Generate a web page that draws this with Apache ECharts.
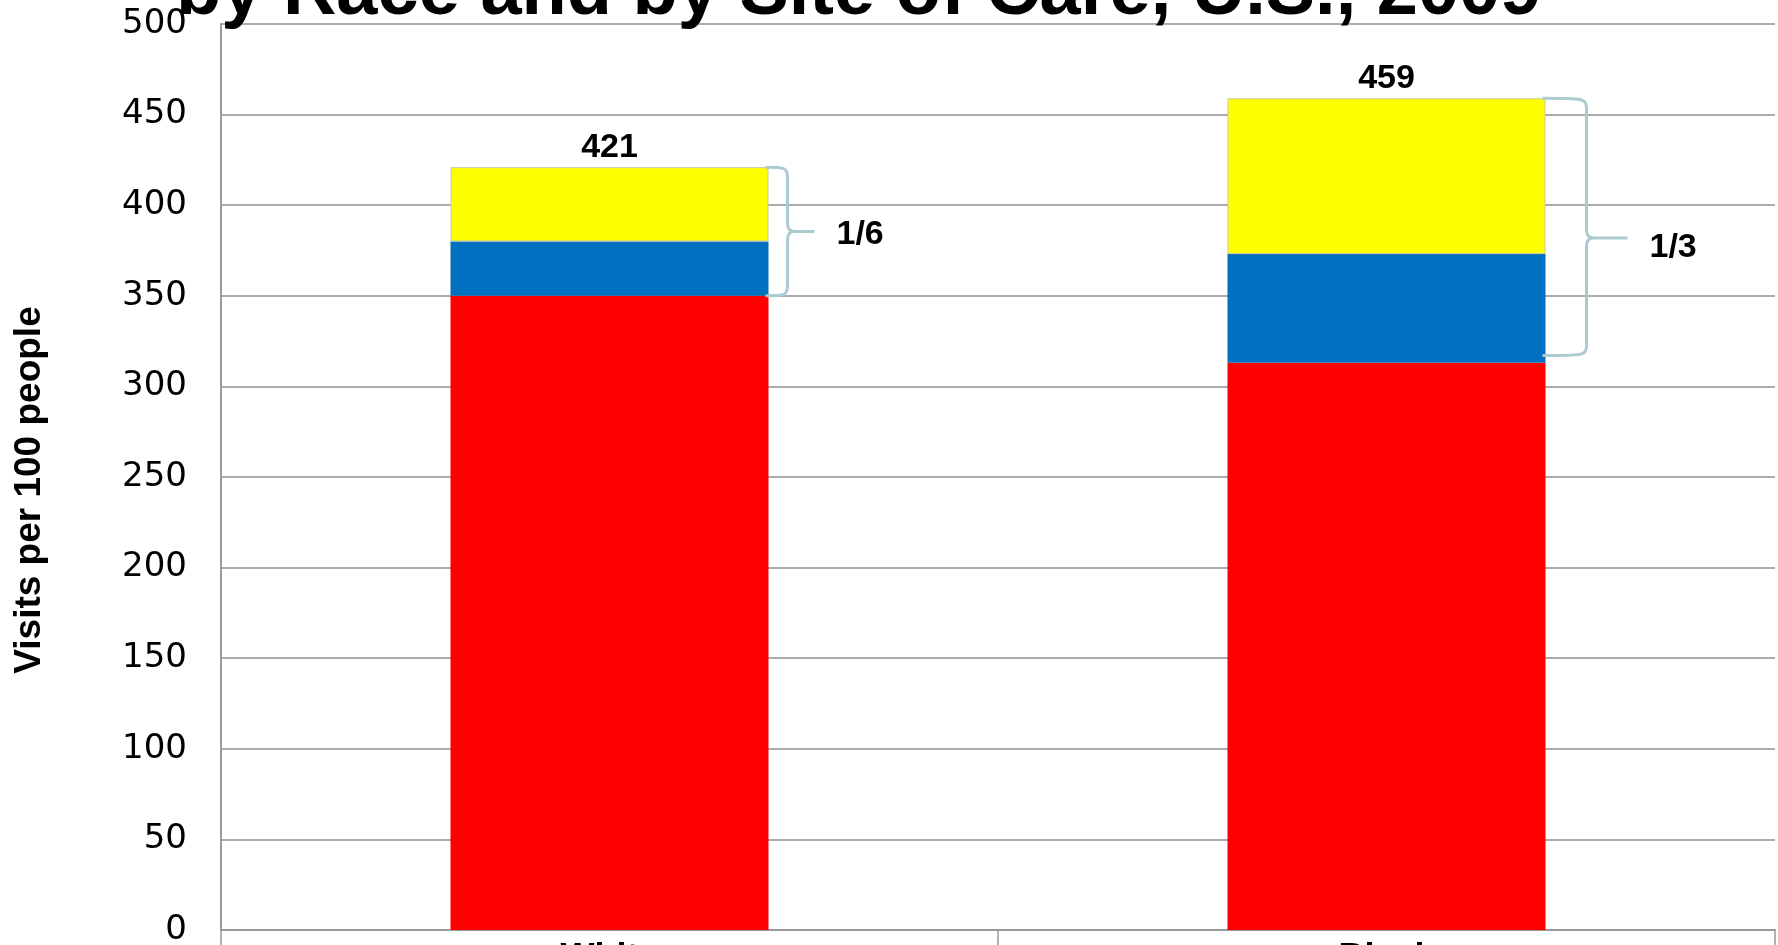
<!DOCTYPE html>
<html>
<head>
<meta charset="utf-8">
<title>Visits per 100 people by race and site of care</title>
<script src="https://cdn.jsdelivr.net/npm/echarts@6/dist/echarts.min.js"></script>
<style>
    html, body {
        margin: 0;
        padding: 0;
        background: #ffffff;
        overflow: hidden;
    }
    #chart {
        width: 1778px;
        height: 945px;
    }
</style>
</head>
<body>
<div id="chart"></div>
<script>
// data
const categories = ['White', 'Black']
const officeVisits = [350, 313]
const outpatientVisits = [30, 60]
const emergencyVisits = [41, 86]
const totals = [421, 459]
const yTicks = { min: 0, max: 500, step: 50 }

// brace annotations: value range they span and their text
const braceLow = [350, 317]
const braceHigh = [421, 459]
const braceLabels = ['1/6', '1/3']

// brace look (px), kept apart from the data
const braceGeom = [
    { arm: 19, tip: 46, tipShift: 0, labelGap: 22, labelDy: 3 },
    { arm: 41, tip: 82, tipShift: 11, labelGap: 22, labelDy: 10 }
]

const BAR_W = 318
const FONT = "'Liberation Sans', Arial, sans-serif"

const chart = echarts.init(document.getElementById('chart'))

const braceData = categories.map((c, i) => [i, braceLow[i], braceHigh[i], braceLabels[i]])

function renderBrace(params, api) {
    const i = api.value(0)
    const top = api.coord([i, api.value(2)])
    const bot = api.coord([i, api.value(1)])
    const g = braceGeom[params.dataIndex]
    const x0 = top[0] + BAR_W / 2
    const xv = x0 + g.arm
    const xt = x0 + g.tip
    const yT = top[1]
    const yB = bot[1]
    const yM = (yT + yB) / 2 + g.tipShift
    const r = 10
    const d = [
        'M', x0 - 3, yT,
        'C', xv - 4, yT, xv, yT, xv, yT + r,
        'L', xv, yM - r,
        'C', xv, yM - 2, xv + 2, yM, xv + 8, yM,
        'L', xt, yM,
        'M', xv + 8, yM,
        'C', xv + 2, yM, xv, yM + 2, xv, yM + r,
        'L', xv, yB - r,
        'C', xv, yB, xv - 4, yB, x0 - 3, yB
    ].join(' ')
    return {
        type: 'group',
        children: [
            {
                type: 'path',
                shape: { pathData: d },
                style: { stroke: '#abcbd1', lineWidth: 3, fill: null }
            },
            {
                type: 'text',
                x: xt + g.labelGap,
                y: yM + g.labelDy,
                style: {
                    text: api.value(3),
                    font: 'bold 34px ' + FONT,
                    fill: '#000',
                    verticalAlign: 'middle',
                    align: 'left'
                }
            }
        ]
    }
}

const option = {
    animation: false,
    backgroundColor: '#ffffff',
    title: {
        text: 'by Race and by Site of Care, U.S., 2009',
        left: 176,
        top: -43,
        padding: 0,
        textStyle: {
            fontFamily: FONT,
            fontWeight: 'bold',
            fontSize: 74,
            color: '#000'
        }
    },
    grid: {
        left: 221,
        right: 3,
        top: 24,
        bottom: 15,
        containLabel: false,
        outerBoundsMode: 'none'
    },
    xAxis: {
        type: 'category',
        data: categories,
        axisLine: { lineStyle: { color: '#999', width: 2 } },
        axisTick: { show: true, length: 30, lineStyle: { color: '#999', width: 1.5 } },
        axisLabel: {
            margin: 11,
            fontFamily: FONT,
            fontWeight: 'bold',
            fontSize: 36,
            color: '#000'
        }
    },
    yAxis: {
        type: 'value',
        min: yTicks.min,
        max: yTicks.max,
        interval: yTicks.step,
        name: 'Visits per 100 people',
        nameLocation: 'middle',
        nameGap: 173,
        nameTextStyle: {
            fontFamily: FONT,
            fontWeight: 'bold',
            fontSize: 37,
            color: '#000',
            padding: [0, 26, 0, 0]
        },
        axisLine: { show: true, lineStyle: { color: '#999', width: 2 } },
        axisTick: { show: false },
        splitLine: { lineStyle: { color: '#8f8f8f', width: 1.5 } },
        axisLabel: {
            margin: 34,
            fontFamily: "'DejaVu Sans', sans-serif",
            fontSize: 34,
            color: '#000'
        }
    },
    series: [
        {
            name: 'Physician offices',
            type: 'bar',
            stack: 'visits',
            barWidth: BAR_W,
            itemStyle: { color: '#ff0000' },
            data: officeVisits
        },
        {
            name: 'Hospital outpatient departments',
            type: 'bar',
            stack: 'visits',
            barWidth: BAR_W,
            itemStyle: { color: '#0070c0' },
            data: outpatientVisits
        },
        {
            name: 'Emergency departments',
            type: 'bar',
            stack: 'visits',
            barWidth: BAR_W,
            itemStyle: { color: '#ffff00', borderColor: '#c8c8a0', borderWidth: 1 },
            label: {
                show: true,
                position: 'top',
                distance: 3,
                formatter: (p) => totals[p.dataIndex],
                fontFamily: FONT,
                fontWeight: 'bold',
                fontSize: 34,
                color: '#000'
            },
            data: emergencyVisits
        },
        {
            name: 'braces',
            type: 'custom',
            renderItem: renderBrace,
            encode: { x: 0, y: [1, 2] },
            silent: true,
            z: 5,
            data: braceData
        }
    ]
}

chart.setOption(option)
</script>
</body>
</html>
